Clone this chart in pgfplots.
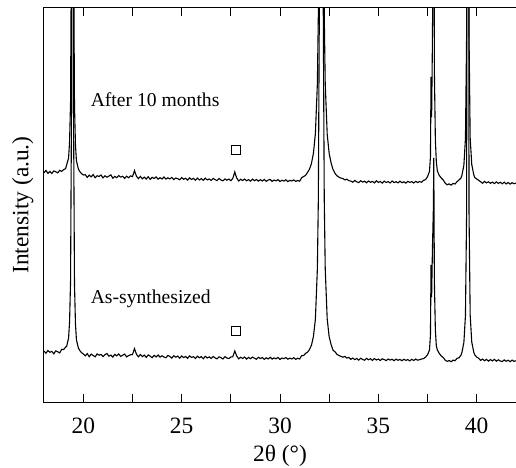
\documentclass[border=0pt]{standalone}
\usepackage{pgfplots}
\usepackage{pgfplotstable}
\pgfplotsset{compat=1.18}
\usepackage{fontspec}
\setmainfont{Liberation Serif}

\pgfplotstableread{
x L U
18.0 50.8 229.2
18.1 48.8 231.5
18.2 51.5 228.7
18.3 49.7 230.6
18.4 50.6 228.5
18.5 48.2 231.1
18.6 51.1 230.2
18.7 50.2 229.1
18.8 49.1 231.7
18.9 52.7 230.6
19.0 52.4 232.4
19.1 55 233.4
19.15 55.5 237
19.25 64 244
19.3 80 260
19.35 120 300
19.4 300 480
19.45 1550 1730
19.5 298 477
19.55 118 297
19.6 78 257
19.65 62 241
19.75 54 233
19.8 52 231
19.9 49.5 228.5
20.0 48 227
20.1 46.2 227.3
20.2 48.4 224.6
20.3 45.3 226.8
20.4 47.9 225.1
20.5 46.5 227.4
20.6 45.2 224.2
20.7 48.1 226.3
20.8 46.8 225.5
20.9 47.6 227.0
21.0 45.4 224.1
21.1 47.3 226.2
21.2 48.5 224.8
21.3 45.8 225.9
21.4 46.9 227.1
21.5 44.9 223.8
21.6 47.7 225.6
21.7 46.1 224.3
21.8 48.0 226.4
21.9 45.6 224.9
22.0 46.8 225.7
22.1 47.9 223.6
22.2 45.1 225.8
22.3 46.4 224.2
22.4 47.2 226.1
22.5 47.5 225.4
22.6 53.4 231.4
22.7 47.8 225.8
22.8 45.2 223.4
22.9 47.5 225.6
23.0 45.4 223.2
23.1 46.9 224.9
23.2 44.6 223.0
23.3 47.1 225.3
23.4 45.8 222.6
23.5 44.3 224.7
23.6 46.7 223.5
23.7 45.1 225.1
23.8 47.0 222.8
23.9 44.9 224.3
24.0 46.2 223.0
24.1 45.0 225.0
24.2 44.2 222.9
24.3 46.6 224.2
24.4 45.5 223.1
24.5 43.9 224.6
24.6 46.3 222.4
24.7 44.8 224.0
24.8 45.9 223.3
24.9 43.8 222.2
25.0 46.0 224.4
25.1 44.4 222.7
25.2 45.6 223.8
25.3 43.7 221.9
25.4 46.1 224.1
25.5 44.6 222.5
25.6 45.3 223.6
25.7 43.5 221.8
25.8 45.8 223.9
25.9 44.2 222.0
26.0 45.4 223.4
26.1 43.3 221.7
26.2 45.7 223.8
26.3 44.0 222.1
26.4 45.1 223.0
26.5 43.6 221.5
26.6 45.5 223.6
26.7 44.1 222.3
26.8 43.2 221.4
26.9 45.2 223.5
27.0 44.3 222.0
27.1 43.0 221.2
27.2 45.4 223.1
27.3 44.0 221.8
27.4 43.4 222.9
27.5 45.0 221.3
27.6 45.2 223.6
27.7 51 230
27.8 46 223.9
27.9 43.1 221.0
28.0 44.8 222.7
28.1 43.5 221.5
28.2 45.0 223.0
28.3 42.9 221.2
28.4 44.6 222.4
28.5 43.3 220.8
28.6 44.9 222.9
28.7 43.8 221.3
28.8 42.7 222.5
28.9 44.7 220.9
29.0 43.4 222.3
29.1 44.5 221.0
29.2 42.6 222.6
29.3 44.2 220.7
29.4 43.0 221.9
29.5 44.8 222.6
29.6 42.9 220.6
29.7 44.1 222.0
29.8 43.2 221.1
29.9 44.6 222.4
30.0 42.5 220.5
30.1 44.0 221.8
30.2 43.3 220.9
30.3 44.5 222.2
30.4 42.8 220.4
30.5 43.9 221.7
30.6 43.0 221.0
30.7 44.3 222.1
30.8 42.6 220.6
30.9 43.8 221.5
31.0 43.0 220.8
31.1 46.4 224.3
31.2 46.5 225.5
31.3 48.6 226.6
31.4 49.8 229.6
31.5 52.5 232.8
31.6 56.8 238.6
31.7 65.5 248.8
31.8 83 268.5
31.9 133 318
31.95 203 388
32.0 393 571
32.05 1243 1421
32.1 3043 3221
32.15 1243 1421
32.2 393 571
32.25 203 388
32.3 133 318
32.4 83 267.8
32.5 65.2 248.6
32.6 57.3 238.8
32.7 51.6 232.3
32.8 50.2 228.5
32.9 47.6 226.2
33.0 46.5 224.8
33.1 45.6 223.9
33.2 44.8 223.4
33.3 45.6 222.1
33.4 43.9 222.8
33.5 44.6 221.3
33.6 42.7 220.9
33.7 43.9 219.8
33.8 42.4 221.6
33.9 43.5 220.2
34.0 41.9 219.4
34.1 43.8 221.3
34.2 42.6 219.9
34.3 41.8 220.8
34.4 43.6 219.2
34.5 42.2 221.0
34.6 43.3 219.7
34.7 41.6 220.6
34.8 43.4 219.1
34.9 42.0 221.2
35.0 42.9 219.6
35.1 41.5 220.5
35.2 43.2 218.9
35.3 42.4 220.9
35.4 41.4 219.5
35.5 43.0 220.4
35.6 41.9 219.0
35.7 42.8 221.0
35.8 41.3 219.4
35.9 42.9 220.3
36.0 41.7 219.1
36.1 42.6 220.8
36.2 41.2 219.3
36.3 42.8 220.2
36.4 41.6 218.9
36.5 42.4 220.7
36.6 41.1 219.6
36.7 42.7 220.4
36.8 41.5 219.0
36.9 42.9 220.6
37.0 41.8 219.5
37.1 42.3 220.5
37.2 43.0 219.7
37.3 43.4 221.6
37.4 44.9 222.4
37.5 47.2 225.3
37.6 51.8 230.5
37.65 67 245
37.68 137 325
37.71 105 285
37.75 152 360
37.8 195 500
37.82 244 650
37.85 120 330
37.9 72 262
37.95 56 240
38.0 52 231
38.1 48.5 226.5
38.2 46.0 224
38.3 44.5 222
38.4 41.8 218.8
38.5 40.6 217.2
38.6 41.5 218.1
38.7 40.2 216.9
38.8 41.9 218.6
38.9 41.3 218.0
39.0 43.6 220.3
39.1 44.2 222.0
39.2 46.8 223.9
39.25 49.5 226.6
39.35 59.6 236.8
39.43 86.5 263.5
39.49 191.5 368.5
39.55 1541 1719
39.61 192 369
39.67 87 264
39.75 60 237.5
39.85 50 227.5
39.9 47.2 224.6
40.0 45.0 223.0
40.1 43.8 221.7
40.2 41.6 220.3
40.3 42.9 218.8
40.4 41.3 220.6
40.5 42.6 219.1
40.6 40.9 220.2
40.7 42.4 218.7
40.8 41.1 219.9
40.9 42.7 218.4
41.0 40.8 220.1
41.1 42.2 218.6
41.2 41.0 219.7
41.3 40.4 218.2
41.4 42.1 219.8
41.5 40.7 218.0
41.6 41.8 219.5
41.7 40.3 217.9
41.8 41.9 219.3
41.9 40.6 218.3
42.0 41.3 219.0
}\xrd

\pgfplotstableread{
x y
27.75 252
27.75 71
}\squares

\begin{document}
\begin{tikzpicture}
\useasboundingbox (-44bp,-66bp) rectangle (472bp,402bp);
\begin{axis}[
  scale only axis, width=472bp, height=394bp,
  at={(0,0)}, anchor=south west,
  xmin=18, xmax=42, ymin=0, ymax=394,
  xtick={20,25,30,35,40},
  xticklabels={20,25,30,35,40},
  minor xtick={22.5,27.5,32.5,37.5},
  ytick=\empty,
  tick align=inside,
  major tick length=8bp, minor tick length=8bp,
  tick style={black, line width=1bp},
  axis line style={line width=1bp},
  xticklabel style={font=\fontsize{23.5}{28}\selectfont, yshift=-12bp},
  xlabel={2θ (°)}, ylabel={Intensity (a.u.)},
  label style={font=\fontsize{23.5}{28}\selectfont},
  xlabel style={at={(axis description cs:0.5,-0.137)}, anchor=center},
  ylabel style={at={(axis description cs:-0.045,0.5)}, anchor=center},
]
\addplot[black, line width=1.1bp] table[x=x, y=L] {\xrd};
\addplot[black, line width=1.1bp] table[x=x, y=U] {\xrd};
\addplot[only marks, mark=square, mark size=4.5bp, mark options={black, line width=1bp}] table[x=x, y=y] {\squares};
\node[anchor=base west, font=\fontsize{19.7}{24}\selectfont] at (axis cs:20.2,295.5) {After 10 months};
\node[anchor=base west, font=\fontsize{19.7}{24}\selectfont] at (axis cs:20.2,98.5) {As-synthesized};
\end{axis}
\end{tikzpicture}
\end{document}
